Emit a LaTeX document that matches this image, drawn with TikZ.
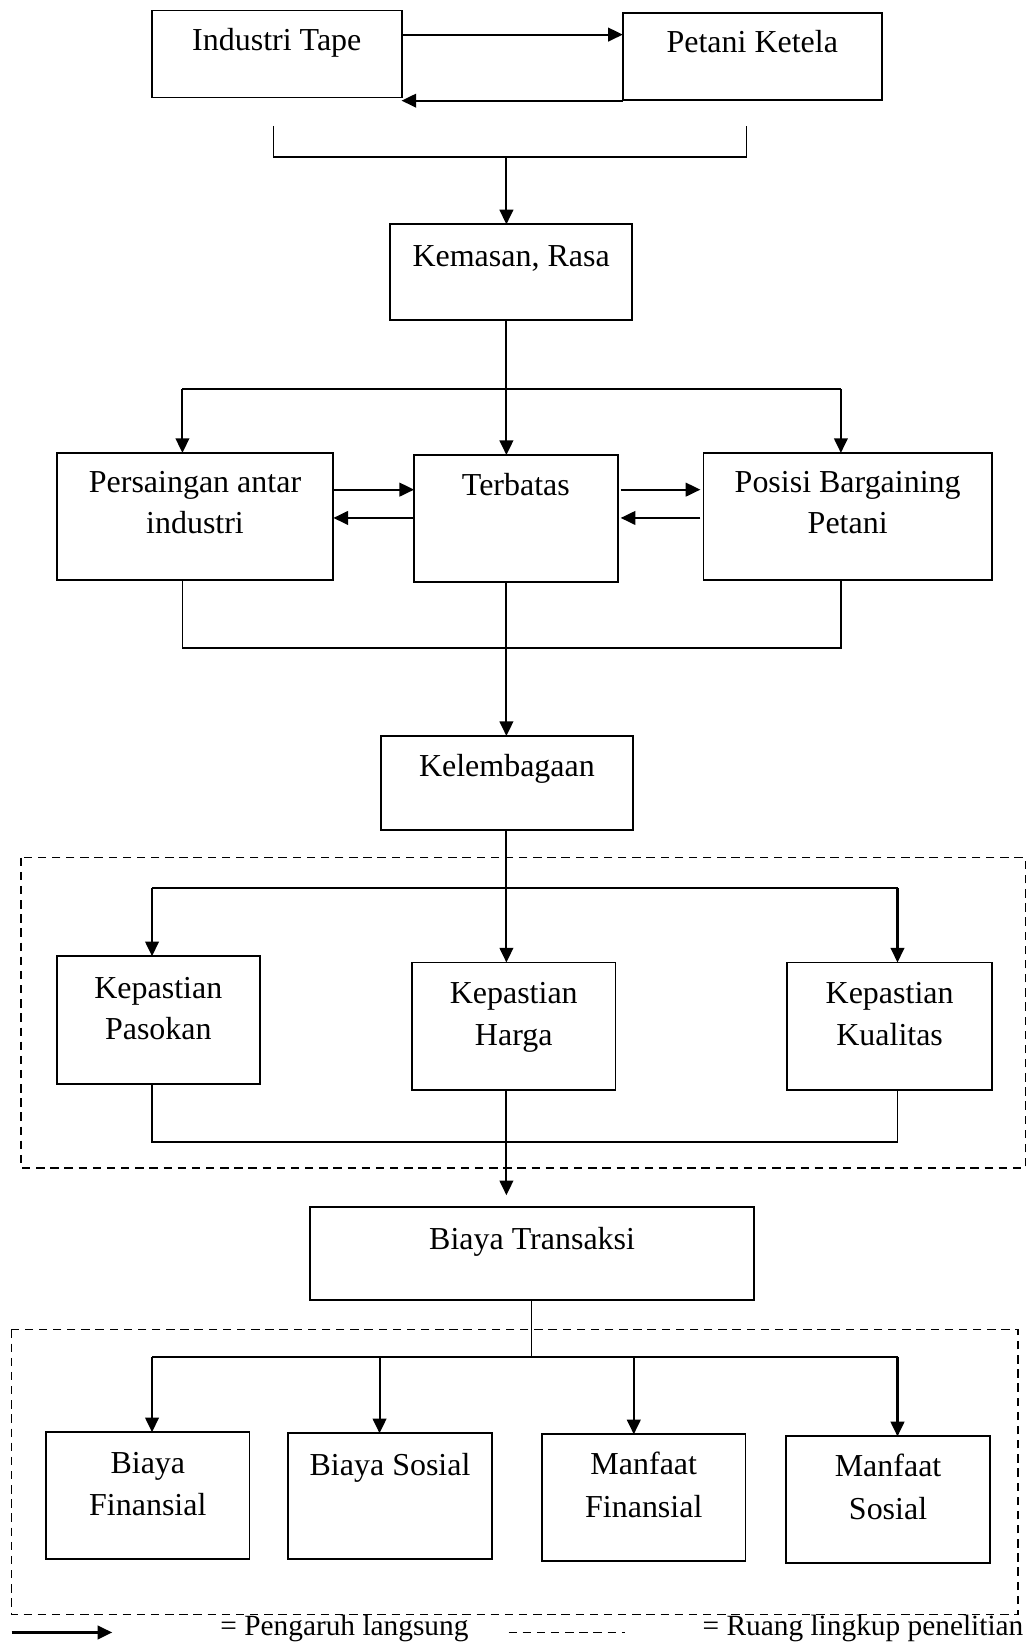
\documentclass[tikz,border=0pt]{standalone}
\usepackage{fontspec}
\setmainfont{Liberation Serif}
\usetikzlibrary{arrows.meta}
\tikzset{
  box/.style={draw, line width=1.8pt, inner sep=0pt, outer sep=0pt},
  txt/.style={font=\fontsize{30.5}{38}\selectfont, inner sep=0pt, anchor=base},
  legtxt/.style={font=\fontsize{28}{32}\selectfont, inner sep=0pt, anchor=base west},
  ln/.style={line width=1.6pt},
  arr/.style={line width=2pt, -{Triangle[length=14pt,width=13pt]}},
  dbox/.style={line width=1.4pt, dash pattern=on 8pt off 5.5pt},
}
\begin{document}
\begin{tikzpicture}[x=1pt,y=-1pt]
\useasboundingbox (0,0) rectangle (982,1568);

% boxes
\node[box, minimum width=238pt, minimum height=83pt] (it) at (264,51.5) {};
\node[box, minimum width=247pt, minimum height=83pt] (pk) at (717.5,53.5) {};
\node[box, minimum width=231pt, minimum height=91pt] (km) at (487.5,259.5) {};
\node[box, minimum width=264pt, minimum height=121pt] (ps) at (186,492.5) {};
\node[box, minimum width=194pt, minimum height=121pt] (tb) at (492,494.5) {};
\node[box, minimum width=275pt, minimum height=121pt] (pb) at (808.5,492.5) {};
\node[box, minimum width=241pt, minimum height=90pt] (kl) at (483.5,747) {};
\node[box, minimum width=194pt, minimum height=122pt] (kp) at (151,973) {};
\node[box, minimum width=194pt, minimum height=122pt] (kh) at (490,979) {};
\node[box, minimum width=195pt, minimum height=122pt] (kk) at (848.5,979) {};
\node[box, minimum width=423pt, minimum height=89pt] (bt) at (507.5,1195.5) {};
\node[box, minimum width=194pt, minimum height=121pt] (bf) at (141,1426.5) {};
\node[box, minimum width=194pt, minimum height=120pt] (bs) at (372,1427) {};
\node[box, minimum width=194pt, minimum height=121pt] (mf) at (614,1428.5) {};
\node[box, minimum width=194pt, minimum height=121pt] (ms) at (847,1430.5) {};

% texts
\node[txt] (itT) at (264,48) {Industri Tape};
\node[txt] (pkT) at (717.5,50) {Petani Ketela};
\node[txt] (kmT) at (487.5,254) {Kemasan, Rasa};
\node[txt] (psT1) at (186,470) {Persaingan antar};
\node[txt] (psT2) at (186,509) {industri};
\node[txt] (tbT) at (492,473) {Terbatas};
\node[txt] (pbT1) at (808.5,470) {Posisi Bargaining};
\node[txt] (pbT2) at (808.5,509) {Petani};
\node[txt] (klT) at (483.5,741) {Kelembagaan};
\node[txt] (kpT1) at (151,952) {Kepastian};
\node[txt] (kpT2) at (151,991) {Pasokan};
\node[txt] (khT1) at (490,957) {Kepastian};
\node[txt] (khT2) at (490,997) {Harga};
\node[txt] (kkT1) at (848.5,957) {Kepastian};
\node[txt] (kkT2) at (848.5,997) {Kualitas};
\node[txt] (btT) at (507.5,1192) {Biaya Transaksi};
\node[txt] (bfT1) at (141,1405) {Biaya};
\node[txt] (bfT2) at (141,1445) {Finansial};
\node[txt] (bsT) at (372,1407) {Biaya Sosial};
\node[txt] (mfT1) at (614,1406) {Manfaat};
\node[txt] (mfT2) at (614,1447) {Finansial};
\node[txt] (msT1) at (847,1408) {Manfaat};
\node[txt] (msT2) at (847,1449) {Sosial};

% dashed scopes
\draw[dbox] (20,818) rectangle (978,1114);
\draw[dbox] (11,1268) rectangle (971,1540);

% top exchange
\draw[arr] (it.east |- 0,33) -- (pk.west |- 0,33);
\draw[arr] (pk.west |- 0,96) -- (it.east |- 0,96);

% bracket 1
\coordinate (b1L) at (261,120);
\coordinate (b1R) at (712,120);
\coordinate (b1M) at (483,150);
\draw[ln] (b1L) |- (b1M) -| (b1R);
\draw[arr] (b1M) -- (b1M |- km.north);

% level 2 split
\coordinate (c2) at (483,371);
\coordinate (h2L) at (174,371);
\coordinate (h2R) at (802,371);
\draw[arr] (c2 |- km.south) -- (c2 |- tb.north);
\draw[ln] (h2L) -- (h2R);
\draw[arr] (h2L) -- (h2L |- ps.north);
\draw[arr] (h2R) -- (h2R |- pb.north);

% horizontal exchanges
\draw[arr] (ps.east |- 0,467) -- (tb.west |- 0,467);
\draw[arr] (tb.west |- 0,494) -- (ps.east |- 0,494);
\draw[arr, shorten <=3pt, shorten >=3pt] (tb.east |- 0,467) -- (pb.west |- 0,467);
\draw[arr, shorten <=3pt, shorten >=3pt] (pb.west |- 0,494) -- (tb.east |- 0,494);

% bracket 2
\coordinate (b2L) at (174,618);
\coordinate (b2R) at (802,618);
\draw[ln] (b2L |- ps.south) -- (b2L) -- (b2R) -- (b2R |- pb.south);
\draw[arr] (c2 |- tb.south) -- (c2 |- kl.north);

% level 3 split
\coordinate (h3L) at (145,847);
\coordinate (h3R) at (856,847);
\draw[arr] (c2 |- kl.south) -- (c2 |- kh.north);
\draw[ln] (h3L) -- (h3R);
\draw[arr] (h3L) -- (h3L |- kp.north);
\draw[arr] (h3R) -- (h3R |- kk.north);

% bracket 3
\coordinate (b3L) at (145,1089);
\coordinate (b3R) at (856,1089);
\draw[ln] (b3L |- kp.south) -- (b3L) -- (b3R) -- (b3R |- kk.south);
\draw[arr, shorten >=11pt] (c2 |- kh.south) -- (c2 |- bt.north);

% level 4 split
\coordinate (c4) at (507,1294);
\coordinate (h4A) at (145,1294);
\coordinate (h4B) at (362,1294);
\coordinate (h4C) at (604.5,1294);
\coordinate (h4D) at (856,1294);
\draw[ln] (c4 |- bt.south) -- (c4);
\draw[ln] (h4A) -- (h4D);
\draw[arr] (h4A) -- (h4A |- bf.north);
\draw[arr] (h4B) -- (h4B |- bs.north);
\draw[arr] (h4C) -- (h4C |- mf.north);
\draw[arr] (h4D) -- (h4D |- ms.north);

% legend
\coordinate (lgA) at (11,1557);
\coordinate (lgB) at (107,1557);
\draw[arr, line width=2.4pt] (lgA) -- (lgB);
\node[legtxt] (lg1) at (210,1560) {= Pengaruh langsung};
\coordinate (ldA) at (485,1557);
\coordinate (ldB) at (596,1557);
\draw[dbox] (ldA) -- (ldB);
\node[legtxt] (lg2) at (670,1560) {= Ruang lingkup penelitian};
\end{tikzpicture}
\end{document}
